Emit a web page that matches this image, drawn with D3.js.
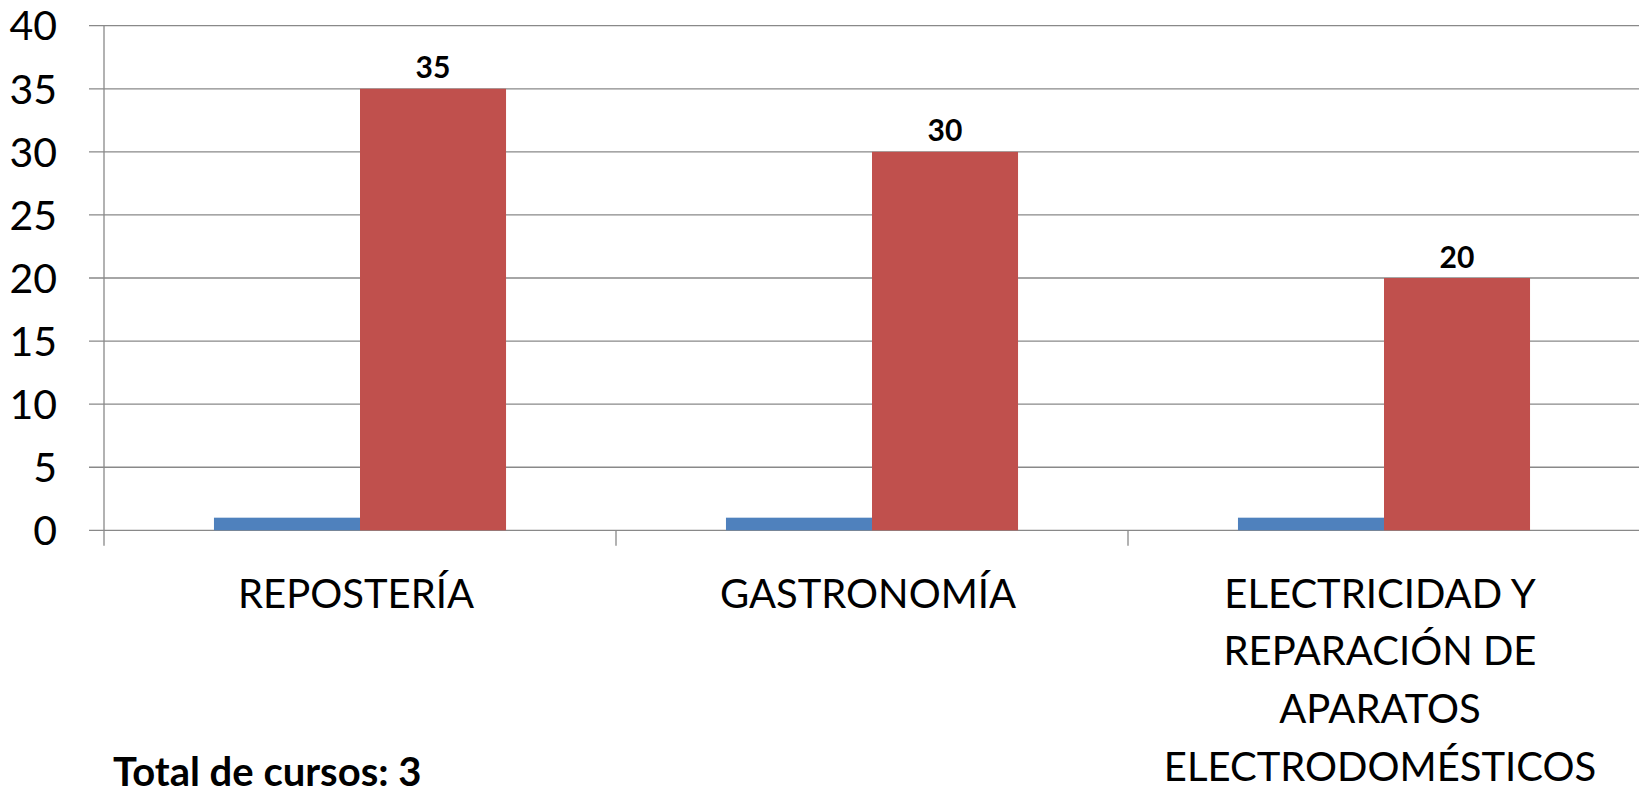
<!doctype html>
<html>
<head>
<meta charset="utf-8">
<style>
    body { margin: 0; background: #fff; }
    svg { display: block; font-family: Lato, "Open Sans", sans-serif; }
    .grid line { stroke: #898989; stroke-width: 1.3; }
</style>
<script src="https://d3js.org/d3.v7.min.js"></script>
</head>
<body>
<svg width="1639" height="789"></svg>
<script>
    var categories = ["REPOSTERÍA", "GASTRONOMÍA", "ELECTRICIDAD Y REPARACIÓN DE APARATOS ELECTRODOMÉSTICOS"];
    var seriesNames = ["Serie1", "Serie2"];
    var serie1 = [1, 1, 1];
    var serie2 = [35, 30, 20];
    var yTicks = [0, 5, 10, 15, 20, 25, 30, 35, 40];
    var footNote = "Total de cursos: 3";

    var colors = {Serie1: "#4F81BD", Serie2: "#C0504D"};

    var svg = d3.select("svg"),
        plotLeft = 104,
        plotRight = 1640,
        plotTop = 25.7,
        plotBottom = 530.3;

    var data = categories.map(function(c, i) {
        return {name: c, Serie1: serie1[i], Serie2: serie2[i]};
    });

    var xScale = d3.scaleBand().domain(categories).range([plotLeft, plotRight]).padding(0),
        xSub = d3.scaleBand().domain(seriesNames).range([0, xScale.bandwidth()])
                 .paddingInner(0).paddingOuter(0.753),
        yScale = d3.scaleLinear().domain([0, 40]).range([plotBottom, plotTop]);

    // gridlines
    svg.append("g").attr("class", "grid")
       .selectAll("line")
       .data(yTicks)
       .enter().append("line")
       .attr("x1", plotLeft - 15)
       .attr("x2", 1639)
       .attr("y1", function(d) { return yScale(d); })
       .attr("y2", function(d) { return yScale(d); });

    // y axis line
    svg.append("line")
       .attr("x1", plotLeft).attr("x2", plotLeft)
       .attr("y1", plotTop).attr("y2", plotBottom + 15.5)
       .attr("stroke", "#898989").attr("stroke-width", 1.3);

    // y labels
    svg.append("g")
       .selectAll("text")
       .data(yTicks)
       .enter().append("text")
       .attr("x", 57)
       .attr("y", function(d) { return yScale(d); })
       .attr("dy", "0.36em")
       .attr("text-anchor", "end")
       .attr("font-size", "41px")
       .attr("fill", "#000")
       .text(function(d) { return d; });

    // category ticks
    svg.append("g")
       .selectAll("line")
       .data(categories.slice(1))
       .enter().append("line")
       .attr("x1", function(d) { return xScale(d); })
       .attr("x2", function(d) { return xScale(d); })
       .attr("y1", plotBottom)
       .attr("y2", plotBottom + 15.5)
       .attr("stroke", "#898989").attr("stroke-width", 1.3);

    // bars
    var groups = svg.append("g")
       .selectAll("g")
       .data(data)
       .enter().append("g")
       .attr("transform", function(d) { return "translate(" + xScale(d.name) + ",0)"; });

    groups.selectAll("rect")
       .data(function(d) { return seriesNames.map(function(s) { return {key: s, value: d[s]}; }); })
       .enter().append("rect")
       .attr("x", function(d) { return xSub(d.key); })
       .attr("y", function(d) { return yScale(d.value); })
       .attr("width", xSub.bandwidth())
       .attr("height", function(d) { return plotBottom - yScale(d.value); })
       .attr("fill", function(d) { return colors[d.key]; });

    // value labels on the second series
    groups.append("text")
       .attr("x", xSub("Serie2") + xSub.bandwidth() / 2)
       .attr("y", function(d) { return yScale(d.Serie2) - 10.5; })
       .attr("text-anchor", "middle")
       .attr("font-size", "30px")
       .attr("font-weight", "bold")
       .attr("fill", "#000")
       .text(function(d) { return d.Serie2; });

    // category labels, wrapped to the band width
    var labels = svg.append("g")
       .selectAll("text")
       .data(categories)
       .enter().append("text")
       .attr("x", function(d) { return xScale(d) + xScale.bandwidth() / 2 - 4; })
       .attr("y", 607.5)
       .attr("text-anchor", "middle")
       .attr("font-size", "40px")
       .attr("fill", "#000")
       .text(function(d) { return d; });

    labels.each(function() { wrap(d3.select(this), 470); });

    function wrap(text, width) {
        var words = text.text().split(/\s+/),
            x = text.attr("x"),
            line = [],
            tspan = text.text(null).append("tspan").attr("x", x).attr("dy", 0);
        words.forEach(function(w) {
            line.push(w);
            tspan.text(line.join(" "));
            if (tspan.node().getComputedTextLength() > width && line.length > 1) {
                line.pop();
                tspan.text(line.join(" "));
                line = [w];
                tspan = text.append("tspan").attr("x", x).attr("dy", 57.8).text(w);
            }
        });
    }

    svg.append("text")
       .attr("x", 113)
       .attr("y", 786)
       .attr("font-size", "40px")
       .attr("font-weight", "bold")
       .attr("fill", "#000")
       .text(footNote);
</script>
</body>
</html>
